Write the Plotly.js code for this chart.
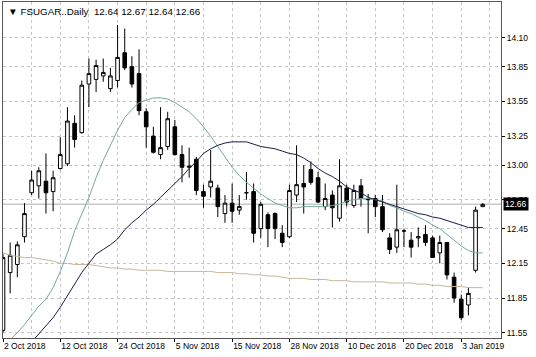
<!DOCTYPE html>
<html>
<head>
<meta charset="utf-8">
<script src="https://cdn.plot.ly/plotly-3.0.1.min.js"></script>
<style>html,body{margin:0;padding:0;background:#fff;}#chart{width:536px;height:357px;}</style>
</head>
<body>
<div id="chart"></div>
<script>
const dates = ["2018-10-02","2018-10-03","2018-10-04","2018-10-05","2018-10-08","2018-10-09","2018-10-10","2018-10-11","2018-10-12","2018-10-15","2018-10-16","2018-10-17","2018-10-18","2018-10-19","2018-10-22","2018-10-23","2018-10-24","2018-10-25","2018-10-26","2018-10-29","2018-10-30","2018-10-31","2018-11-01","2018-11-02","2018-11-05","2018-11-06","2018-11-07","2018-11-08","2018-11-09","2018-11-12","2018-11-13","2018-11-14","2018-11-15","2018-11-16","2018-11-19","2018-11-20","2018-11-21","2018-11-23","2018-11-26","2018-11-27","2018-11-28","2018-11-29","2018-11-30","2018-12-03","2018-12-04","2018-12-05","2018-12-06","2018-12-07","2018-12-10","2018-12-11","2018-12-12","2018-12-13","2018-12-14","2018-12-17","2018-12-18","2018-12-19","2018-12-20","2018-12-21","2018-12-24","2018-12-26","2018-12-27","2018-12-28","2018-12-31","2019-01-02","2019-01-03","2019-01-04","2019-01-07","2019-01-08"];
const open  = [11.57,12.07,12.14,12.38,12.76,12.82,12.86,12.77,12.97,13.01,13.36,13.28,13.70,13.74,13.77,13.66,13.73,13.97,13.85,13.79,13.46,13.25,13.09,13.16,13.33,13.09,12.98,13.05,12.77,12.81,12.80,12.58,12.67,12.61,12.76,12.77,12.45,12.57,12.58,12.41,12.38,12.74,12.84,12.96,12.89,12.64,12.74,12.54,12.80,12.65,12.82,12.71,12.71,12.64,12.37,12.29,12.43,12.35,12.37,12.40,12.37,12.24,12.33,12.03,11.84,11.79,12.09,12.64];
const high  = [12.23,12.33,12.34,12.67,12.95,12.98,13.10,12.95,13.24,13.50,13.43,13.73,13.92,13.91,13.92,13.84,14.21,14.18,13.94,14.00,13.49,13.33,13.50,13.46,13.39,13.17,13.15,13.07,12.83,13.13,12.83,12.74,12.84,12.74,12.94,12.84,12.68,12.59,12.59,12.48,12.83,13.17,13.00,13.03,12.94,12.84,12.78,13.05,12.83,12.83,12.88,12.75,12.74,12.74,12.41,12.83,12.45,12.42,12.46,12.48,12.39,12.39,12.33,12.07,11.88,11.94,12.64,12.67];
const low   = [11.55,11.89,12.03,12.33,12.74,12.71,12.58,12.60,12.96,12.99,13.15,13.27,13.50,13.63,13.72,13.63,13.67,13.82,13.67,13.43,13.15,13.10,13.05,13.13,13.08,12.85,12.89,12.74,12.63,12.72,12.55,12.50,12.50,12.57,12.70,12.33,12.37,12.29,12.36,12.29,12.37,12.68,12.58,12.83,12.67,12.61,12.46,12.51,12.64,12.63,12.64,12.41,12.55,12.42,12.23,12.24,12.29,12.20,12.29,12.30,12.20,12.15,12.01,11.81,11.66,11.70,12.07,12.64];
const close = [12.20,12.22,12.31,12.58,12.87,12.95,12.76,12.89,13.09,13.38,13.22,13.69,13.79,13.86,13.80,13.77,13.93,13.84,13.70,13.47,13.33,13.11,13.15,13.40,13.09,12.98,12.99,12.78,12.73,12.86,12.64,12.67,12.60,12.64,12.76,12.41,12.66,12.45,12.45,12.33,12.78,12.83,12.81,12.85,12.68,12.71,12.63,12.82,12.68,12.78,12.71,12.70,12.64,12.44,12.27,12.44,12.43,12.29,12.38,12.33,12.20,12.33,12.05,11.85,11.68,11.89,12.61,12.66];
const maFast = [11.45,11.49,11.55,11.62,11.70,11.78,11.84,11.94,12.08,12.24,12.43,12.57,12.72,12.89,13.04,13.17,13.30,13.41,13.48,13.54,13.56,13.58,13.58,13.57,13.54,13.50,13.46,13.40,13.33,13.25,13.16,13.06,12.98,12.91,12.85,12.80,12.75,12.71,12.67,12.65,12.63,12.63,12.64,12.64,12.64,12.64,12.65,12.66,12.69,12.70,12.71,12.71,12.70,12.69,12.65,12.63,12.60,12.58,12.55,12.52,12.48,12.45,12.40,12.35,12.30,12.26,12.24,12.24];
const maMid = [11.30,11.34,11.38,11.42,11.47,11.54,11.61,11.68,11.77,11.87,11.97,12.07,12.15,12.23,12.27,12.31,12.36,12.44,12.50,12.55,12.61,12.66,12.72,12.78,12.84,12.90,12.97,13.03,13.10,13.14,13.17,13.19,13.20,13.20,13.20,13.18,13.16,13.15,13.14,13.12,13.10,13.09,13.06,13.02,12.97,12.93,12.90,12.86,12.81,12.78,12.76,12.72,12.70,12.68,12.66,12.64,12.62,12.60,12.58,12.57,12.55,12.54,12.52,12.50,12.48,12.46,12.46,12.46];
const maSlow = [12.24,12.22,12.21,12.20,12.20,12.19,12.18,12.17,12.15,12.15,12.14,12.14,12.14,12.13,12.12,12.11,12.11,12.10,12.10,12.09,12.09,12.09,12.09,12.08,12.08,12.08,12.08,12.08,12.08,12.08,12.07,12.07,12.07,12.06,12.06,12.05,12.05,12.04,12.04,12.03,12.02,12.02,12.02,12.01,12.01,12.01,12.00,12.00,12.00,11.99,11.99,11.99,11.99,11.99,11.98,11.98,11.98,11.98,11.97,11.97,11.96,11.96,11.95,11.95,11.95,11.94,11.94,11.94];
const labelDates = ["2018-10-02","2018-10-12","2018-10-24","2018-11-05","2018-11-15","2018-11-28","2018-12-10","2018-12-20","2019-01-03"];
const labelTexts = ["2 Oct 2018","12 Oct 2018","24 Oct 2018","5 Nov 2018","15 Nov 2018","28 Nov 2018","10 Dec 2018","20 Dec 2018","3 Jan 2019"];
const yTicks = [14.10,13.85,13.55,13.25,13.00,12.70,12.45,12.15,11.85,11.55];
const lastPrice = 12.66;
const headerText = "\u25BC FSUGAR..Daily  12.64 12.67 12.64 12.66";

const xs = dates.map((d, i) => i);
const font = {family: "Liberation Sans, Arial, sans-serif", size: 8.5, color: "#000"};
const gridCol = "#c4c4c4";

const traces = [
  {
    type: "candlestick", x: xs, open: open, high: high, low: low, close: close,
    increasing: {line: {color: "#000", width: 1}, fillcolor: "#fff"},
    decreasing: {line: {color: "#000", width: 1}, fillcolor: "#000"},
    whiskerwidth: 0, hoverinfo: "skip", showlegend: false
  },
  {type: "scatter", mode: "lines", x: xs, y: maSlow, line: {color: "#c9b79c", width: 1}, hoverinfo: "skip", showlegend: false},
  {type: "scatter", mode: "lines", x: xs, y: maFast, line: {color: "#74a89e", width: 1}, hoverinfo: "skip", showlegend: false},
  {type: "scatter", mode: "lines", x: xs, y: maMid, line: {color: "#1c1c4e", width: 1}, hoverinfo: "skip", showlegend: false}
];

const layout = {
  width: 536, height: 357,
  margin: {l: 3, r: 35, t: 2, b: 19},
  paper_bgcolor: "#fff", plot_bgcolor: "#fff",
  showlegend: false,
  font: font,
  boxgap: 0.28,
  xaxis: {
    type: "linear", range: [0, 69.55], rangeslider: {visible: false},
    tickvals: labelDates.map(d => dates.indexOf(d)), ticktext: labelTexts,
    tickangle: 0, automargin: false,
    ticks: "outside", ticklen: 3, tickcolor: "#000",
    ticklabelposition: "outside right",
    showgrid: true, gridcolor: gridCol, griddash: "3px,3px", gridwidth: 1,
    minor: {tick0: 0, dtick: 4, showgrid: true, gridcolor: gridCol, griddash: "3px,3px", gridwidth: 1, ticks: ""},
    showline: true, mirror: true, linecolor: "#555", linewidth: 1,
    zeroline: false, fixedrange: true, tickfont: font
  },
  yaxis: {
    side: "right", range: [11.5045, 14.409], automargin: false,
    tickvals: yTicks, ticktext: yTicks.map(v => v.toFixed(2)),
    ticks: "outside", ticklen: 3, tickcolor: "#000",
    showgrid: true, gridcolor: gridCol, griddash: "3px,3px", gridwidth: 1,
    showline: true, mirror: true, linecolor: "#555", linewidth: 1,
    zeroline: false, fixedrange: true, tickfont: font
  },
  shapes: [
    {type: "line", xref: "paper", x0: 0, x1: 1, yref: "y", y0: lastPrice, y1: lastPrice,
     line: {color: "#c8c8c8", width: 1.5}, layer: "between"}
  ],
  annotations: [
    {xref: "paper", yref: "y", x: 1, y: lastPrice, xanchor: "left", yanchor: "middle", xshift: 2,
     text: lastPrice.toFixed(2), showarrow: false, bgcolor: "#000", borderpad: 1,
     font: {family: font.family, size: 8.5, color: "#fff"}},
    {xref: "paper", yref: "paper", x: 0, y: 1, xanchor: "left", yanchor: "top", xshift: 3, yshift: -2,
     text: headerText, showarrow: false, font: {family: font.family, size: 9.8, color: "#000"}}
  ]
};

Plotly.newPlot("chart", traces, layout, {staticPlot: true, displayModeBar: false});
</script>
</body>
</html>
